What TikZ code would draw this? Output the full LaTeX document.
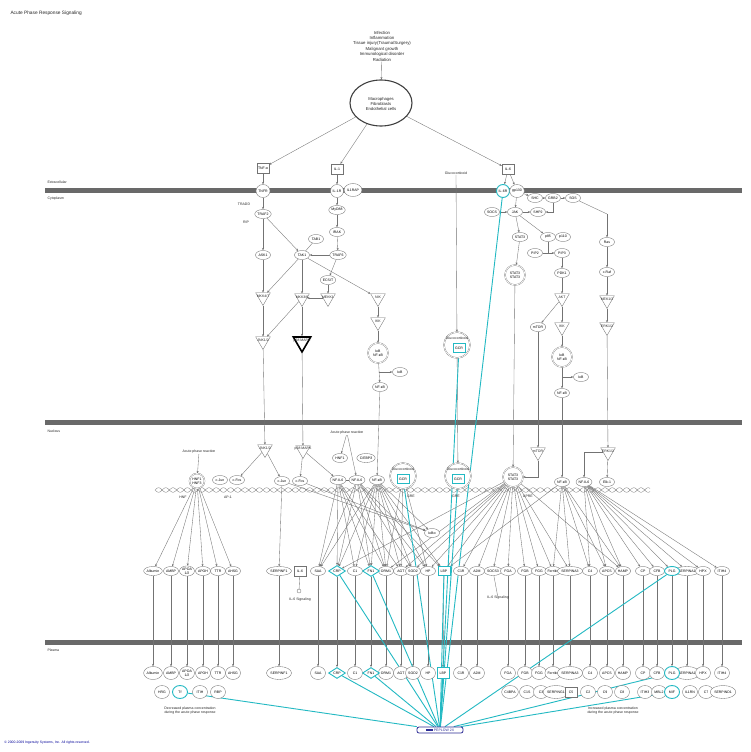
\documentclass[tikz,border=0pt]{standalone}
\usepackage{fontspec}
\setmainfont{Liberation Sans}
\usetikzlibrary{shapes.geometric,arrows.meta}
\pgfdeclarelayer{bg}
\pgfsetlayers{bg,main}
\definecolor{lc}{RGB}{115,115,115}
\definecolor{memb}{RGB}{105,105,105}
\definecolor{cy}{RGB}{35,185,195}
\definecolor{nv}{RGB}{45,45,150}
\tikzset{
 fs/.style={font=\fontsize{3.5}{4.1}\selectfont},
 lbl/.style={fs, inner sep=0.3pt, text=black!85},
 mol/.style={ellipse, draw=lc, line width=0.35pt, inner sep=0.3pt, minimum width=15pt, minimum height=9pt, fs, fill=white, align=center},
 rec/.style={mol, minimum width=10pt, minimum height=13pt},
 pmol/.style={mol, minimum width=15pt, minimum height=13pt},
 lig/.style={rectangle, draw=lc, line width=0.35pt, minimum width=12pt, minimum height=10pt, inner sep=0.8pt, fs, fill=white},
 tri/.style={regular polygon, regular polygon sides=3, shape border rotate=180, draw=lc, line width=0.35pt, minimum size=17pt, inner sep=0pt, fill=white},
 cplx/.style={circle, draw=lc, line width=0.3pt, double=white, double distance=0.7pt, fill=white, inner sep=0.4pt, minimum size=20pt, fs, align=center},
 cydia/.style={diamond, draw=cy, line width=0.9pt, fill=white, inner sep=0.2pt, minimum width=17pt, minimum height=11pt, aspect=1.6, fs},
 cybox/.style={rectangle, draw=cy, line width=0.9pt, fill=white, inner sep=0.8pt, minimum width=12pt, minimum height=9pt, fs},
 cymol/.style={mol, draw=cy, line width=0.9pt},
 arr/.style={draw=lc, line width=0.35pt, -{Stealth[length=2.4pt,width=2pt]}},
 ln/.style={draw=lc, line width=0.35pt},
 cyl/.style={draw=cy, line width=0.9pt},
}
\newcommand\kinase[4][]{\node[tri,#1] (#2) at (#3) {}; \node[lbl, yshift=1pt] (#2t) at (#3) {#4};}
\begin{document}
\begin{tikzpicture}[x=1pt,y=-1pt]
\useasboundingbox (0,0) rectangle (750,752);
\begin{pgfonlayer}{bg}
\fill[white] (0,0) rectangle (750,752);
\fill[memb] (45,187.5) rectangle (742,193);
\fill[memb] (45,419.5) rectangle (742,425);
\fill[memb] (45,639.5) rectangle (742,645);
\draw[lc, line width=0.3pt] plot[domain=0:495, samples=400, smooth] ({\x+155}, {490+2.3*sin(\x*25)});
\draw[lc, line width=0.3pt] plot[domain=0:495, samples=400, smooth] ({\x+155}, {490-2.3*sin(\x*25)});
\end{pgfonlayer}
% labels
\node[lbl, anchor=west, font=\fontsize{4.8}{5.5}\selectfont] (title) at (10,13) {Acute Phase Response Signaling};
\node[lbl, anchor=west] (lex) at (47,182) {Extracellular};
\node[lbl, anchor=west] (lcy) at (47,199) {Cytoplasm};
\node[lbl, anchor=west] (lnu) at (47,431) {Nucleus};
\node[lbl, anchor=west] (lpl) at (47,650) {Plasma};
\node[lbl, anchor=west, text=blue!60!black, font=\fontsize{3.4}{4}\selectfont] (copy) at (4,743) {© 2000-2009 Ingenuity Systems, Inc. All rights reserved.};
% top
\node[lbl, align=center, font=\fontsize{4.3}{5.4}\selectfont] (stim) at (382,46) {Infection\\Inflammation\\Tissue injury(Trauma/Surgery)\\Malignant growth\\Immunological disorder\\Radiation};
\node[ellipse, draw=black!75, line width=1.1pt, minimum width=62pt, minimum height=46pt, fill=white] (cells) at (381,103) {};
\node[lbl, align=center, font=\fontsize{4.2}{5.2}\selectfont] (cellst) at (381,104) {Macrophages\\Fibroblasts\\Endothelial cells};
\node[lig] (tnf) at (263,168) {TNF-α};
\node[lig] (il1) at (337,169) {IL-1};
\node[lig] (il6) at (508,169) {IL-6};
\node[lbl] (gluc) at (456,173) {Glucocorticoid};
% receptors
\node[rec] (tnfr) at (263,191) {TNFR};
\node[rec] (il1r) at (337,191) {IL-1R};
\node[rec] (il1rap) at (353,190) {IL1RAP};
\node[rec, draw=cy, line width=0.9pt] (il6r) at (503,191) {IL-6R};
\node[rec] (gp130) at (517,191) {gp130};
\node[mol] (shc) at (535,198) {SHC};
\node[mol] (grb2) at (553,198) {GRB2};
\node[mol] (sos) at (573,198) {SOS};
\coordinate (sosk) at (607,214);
% TNF / IL-1 branch
\node[lbl] (tradd) at (244,204) {TRADD};
\node[mol] (traf2) at (263,214) {TRAF2};
\node[lbl] (rip) at (246,222) {RIP};
\node[mol] (myd88) at (337,210) {MyD88};
\node[mol] (irak) at (337,232) {IRAK};
\node[mol] (tab1) at (316,239) {TAB1};
\node[mol] (ask1) at (263,255) {ASK1};
\node[mol] (tak1) at (302,255) {TAK1};
\node[mol] (traf6) at (338,255) {TRAF6};
\node[mol] (ecsit) at (328,280) {ECSIT};
\kinase{mkk47}{263,297}{MKK4/7}
\kinase{mkk36}{302,298}{MKK3/6}
\kinase{mekk1}{328,298}{MEKK1}
\kinase{nik}{378,298}{NIK}
\kinase{ikk1}{378,322}{IKK}
\kinase{jnk}{263,341}{JNK1/2}
\kinase[draw=black, line width=1.6pt, minimum size=20pt]{p38}{302,342}{p38 MAPK}
\node[cplx] (nfkb1c) at (378,353) {IκB\\NF-κB};
\node[mol] (ikb1) at (400,372) {IκB};
\node[mol] (nfkb1) at (380,387) {NF-κB};
\coordinate (b1) at (379,372);
% glucocorticoid cyto
\node[cplx, minimum size=26pt] (gcr1) at (457,345) {};
\node[lbl] (gcr1g) at (457,338) {Glucocorticoid};
\node[cybox] (gcr1b) at (459,348) {GCR};
% IL-6 branch
\node[mol] (socs) at (492,212) {SOCS};
\node[mol] (jak) at (515,212) {JAK};
\node[mol] (shp2) at (538,212) {SHP2};
\node[mol] (stat3) at (520,237) {STAT3};
\node[mol] (p85) at (548,237) {p85};
\node[mol] (p110) at (563,237) {p110};
\node[mol] (pip2) at (535,253) {PIP2};
\node[mol] (pip3) at (562,253) {PIP3};
\coordinate (pipm) at (548,253);
\node[cplx] (stat3d) at (515,275) {STAT3\\STAT3};
\node[mol] (pdk1) at (562,273) {PDK1};
\kinase{akt}{562,298}{AKT}
\node[mol] (mtor) at (538,327) {mTOR};
\kinase{ikk2}{562,327}{IKK}
\node[cplx] (nfkb2c) at (562,357) {IκB\\NF-κB};
\node[mol] (ikb2) at (581,377) {IκB};
\node[mol] (nfkb2) at (562,393) {NF-κB};
\coordinate (b2) at (562,377);
\node[mol] (ras) at (607,242) {Ras};
\node[mol] (craf) at (607,272) {c-Raf};
\kinase{mek}{607,300}{MEK1/2}
\kinase{erk}{607,327}{ERK1/2}
% nucleus
\node[lbl] (apr1) at (199,452) {Acute phase reaction};
\node[cplx, minimum size=15pt] (hnfc) at (197,481) {HNF1\\HNF3};
\node[mol] (cjunA) at (220,480) {c-Jun};
\node[mol] (cfosA) at (237,480) {c-Fos};
\node[lbl] (hnfl) at (183,497) {HNF};
\node[lbl] (ap1l) at (228,497) {AP-1};
\kinase{jnkN}{265,449}{JNK1/2}
\kinase{p38N}{303,450}{p38 MAPK}
\node[mol] (cjunB) at (282,481) {c-Jun};
\node[mol] (cfosB) at (300,481) {c-Fos};
\node[lbl] (apr2) at (347,433) {Acute phase reaction};
\node[mol] (hnf1) at (340,458) {HNF1};
\node[mol] (cebpd) at (366,458) {C/EBPδ};
\node[mol] (nfil6a) at (338,480) {NF-IL6};
\node[mol] (nfil6b) at (357,480) {NF-IL6};
\node[mol] (nfkbN1) at (377,480) {NF-κB};
\node[cplx, minimum size=26pt] (gcrN1) at (403,476) {};
\node[lbl] (gcrN1g) at (403,469) {Glucocorticoid};
\node[cybox] (gcrN1b) at (403,479) {GCR};
\node[lbl] (gre1) at (411,496) {GRE};
\node[cplx, minimum size=26pt] (gcrN2) at (458,476) {};
\node[lbl] (gcrN2g) at (458,469) {Glucocorticoid};
\node[cybox] (gcrN2b) at (458,479) {GCR};
\node[lbl] (gre2) at (456,496) {GRE};
\node[cplx] (stat3N) at (513,477) {STAT3\\STAT3};
\node[lbl] (apre) at (528,496) {APRE};
\kinase{mtorN}{538,452}{mTOR}
\node[mol] (nfkbN2) at (562,482) {NF-κB};
\kinase{erkN}{608,452}{ERK1/2}
\node[mol] (nfil6c) at (584,482) {NF-IL6};
\node[mol] (elk1) at (607,482) {Elk-1};
\node[mol] (ikba) at (432,533) {IκBα};
% acute phase protein genes
\foreach \n/\x/\t in {alb/153/Albumin, ambp/171/AMBP, apoa/187/{APOA\\1/2}, apoh/203/APOH, ttr/218/TTR, ahsg/233/AHSG, serf/279/SERPINF1, saa/318/SAA, c1/355/C1, orm/386/ORM1, agt/401/AGT, sod/413/SOD2, hp/428/HP, c1r/461/C1R, a2m/477/A2M, socs3/493/SOCS3, fga/508/FGA, fgb/525/FGB, fgg/539/FGG, fer/553/Ferritin, sa3/570/SERPINA3, c4/590/C4, apcs/607/APCS, hamp/623/HAMP, cp/643/CP, cfb/657/CFB, sa1/687/SERPINA1, hpx/703/HPX, itih/722/ITIH4}
  {\node[mol] (\n-n) at (\x,571) {\t};}
\node[cydia] (crp-n) at (337,571) {CRP};
\node[cydia] (fn-n) at (371,571) {FN1};
\node[cybox] (lbp-n) at (444,571) {LBP};
\node[cymol] (plg-n) at (672,571) {PLG};
\node[lig] (il6-n) at (300,571) {IL-6};
\node[circle, draw=lc, line width=0.35pt, minimum size=4pt, inner sep=0pt, fill=white] (il6sc) at (299,591) {};
\node[lbl] (il6s1) at (300,600) {IL-6 Signaling};
\node[lbl] (il6s2) at (498,598) {IL-6 Signaling};
% plasma
\foreach \n/\x/\t in {alb/153/Albumin, ambp/171/AMBP, apoa/187/{APOA\\1/2}, apoh/203/APOH, ttr/218/TTR, ahsg/233/AHSG, serf/279/SERPINF1, saa/318/SAA, c1/355/C1, orm/386/ORM1, agt/401/AGT, sod/413/SOD2, hp/428/HP, c1r/461/C1R, a2m/477/A2M, fga/508/FGA, fgb/525/FGB, fgg/539/FGG, fer/553/Ferritin, sa3/570/SERPINA3, c4/590/C4, apcs/607/APCS, hamp/623/HAMP, cp/643/CP, cfb/657/CFB, sa1/687/SERPINA1, hpx/703/HPX, itih/722/ITIH4}
  {\node[pmol] (\n-p) at (\x,673) {\t};}
\node[cydia] (crp-p) at (337,673) {CRP};
\node[cydia] (fn-p) at (371,673) {FN1};
\node[cybox, minimum height=11pt] (lbp-p) at (443,673) {LBP};
\node[cymol, minimum height=13pt] (plg-p) at (672,673) {PLG};
\foreach \n/\x/\t in {hrg/162/HRG, itih1/200/ITIH, rbp/218/RBP, c4bp/510/C4BPA, c1s/527/C1S, c3/541/C3, serg/556/SERPING1, c2/588/C2, c9/605/C9, c8/622/C8, itih3/645/ITIH3, mbl/659/MBL2, il1rn/690/IL1RN, c7/706/C7, serd/723/SERPIND1}
  {\node[pmol] (\n-p) at (\x,692) {\t};}
\node[cymol, minimum height=13pt] (tf-p) at (180,692) {Tf};
\node[lig] (c5-p) at (571,692) {C5};
\node[cymol, minimum height=13pt] (mif-p) at (672,692) {MIF};
\node[lbl, align=center] (dec) at (190,711) {Decreased plasma concentration\\during the acute phase response};
\node[lbl, align=center] (inc) at (613,711) {Increased plasma concentration\\during the acute phase response};
\node[draw=nv, line width=0.8pt, rounded corners=2pt, fill=white, inner sep=0.8pt, fs, minimum width=46pt, minimum height=6pt, text=nv] (pep) at (440,730) {\textcolor{nv}{\rule{7pt}{2.4pt}}\ PEPLOW 2X};
% edges
\begin{pgfonlayer}{bg}
\draw[arr] (stim) -- (cells);
\draw[arr] (cells) -- (tnf);
\draw[arr] (cells) -- (il1);
\draw[arr] (cells) -- (il6);
\foreach \a/\b in {tnf/tnfr, tnfr/traf2, traf2/ask1, traf2/tak1, ask1/mkk47, mkk47/jnk, tak1/mkk47, tak1/mkk36, tak1/nik, mkk36/jnk, mkk36/p38, mekk1/mkk36, ecsit/mekk1, traf6/tak1, traf6/ecsit, il1/il1r, il1r/myd88, myd88/irak, irak/traf6, nik/ikk1, ikk1/nfkb1c, nfkb1c/nfkb1, b1/ikb1, il6/il6r, il6/gp130, gp130/shc, shc/grb2, grb2/sos, sosk/ras, gp130/jak, socs/jak, jak/stat3, jak/shp2, jak/p85, pip2/pip3, pip3/pdk1, pdk1/akt, akt/mtor, akt/ikk2, ikk2/nfkb2c, nfkb2c/nfkb2, b2/ikb2, stat3/stat3d, ras/craf, craf/mek, mek/erk, gluc/gcr1}
  {\draw[arr] (\a) -- (\b);}
\draw[ln] (sos) -- (sosk);
\draw[ln] (tab1) -- (tak1);
\draw[ln] (p85) -- (pipm);
\draw[arr] (grb2) |- (shp2.east);
\foreach \a/\b in {jnk/jnkN, p38/p38N, nfkb1/nfkbN1, stat3d/stat3N, mtor/mtorN, nfkb2/nfkbN2, erk/erkN, gcr1/gcrN2, apr1/hnfc, apr2/hnf1, apr2/nfil6b, jnkN/cfosA, jnkN/cjunB, p38N/cfosB, p38N/nfil6a, erkN/elk1, cjunB/ikba, cfosB/ikba, nfkbN1/ikba}
  {\draw[arr] (\a) -- (\b);}
\draw[arr] (mtorN) |- (stat3N.east);
\draw[arr] (erkN) -| (nfil6c);
\draw[ln] (nfil6a) -- (nfil6b);
\draw[ln] (il6-n) -- (il6sc);
\draw[ln] (socs3-n) -- (il6s2);
% TF -> genes
\foreach \a/\b in {hnfc/alb, hnfc/ambp, hnfc/apoa, hnfc/apoh, hnfc/ttr, hnfc/ahsg, cjunB/serf,
  nfil6a/saa, nfil6a/crp, nfil6a/c1, nfil6a/fn, nfil6a/orm, nfil6a/agt,
  nfil6b/saa, nfil6b/crp, nfil6b/fn, nfil6b/orm, nfil6b/sod, nfil6b/hp, nfil6b/lbp,
  nfkbN1/saa, nfkbN1/crp, nfkbN1/c1, nfkbN1/fn, nfkbN1/orm, nfkbN1/agt, nfkbN1/sod, nfkbN1/hp, nfkbN1/lbp,
  gcrN1/orm, gcrN1/agt, gcrN1/hp,
  stat3N/crp, stat3N/orm, stat3N/agt, stat3N/sod, stat3N/hp, stat3N/lbp, stat3N/c1r, stat3N/a2m, stat3N/socs3, stat3N/fga, stat3N/fgb, stat3N/fgg, stat3N/fer, stat3N/sa3, stat3N/hamp,
  nfkbN2/fer, nfkbN2/sa3, nfkbN2/c4, nfkbN2/apcs, nfkbN2/hamp, nfkbN2/lbp,
  nfil6c/c4, nfil6c/apcs, nfil6c/hamp, nfil6c/cp, nfil6c/cfb, nfil6c/plg, nfil6c/sa1, nfil6c/hpx, nfil6c/itih}
  {\draw[arr] (\a) -- (\b-n);}
% genes -> plasma
\foreach \n in {alb, ambp, apoa, apoh, ttr, ahsg, serf, saa, crp, c1, fn, orm, agt, sod, hp, lbp, c1r, a2m, fga, fgb, fgg, fer, sa3, c4, apcs, hamp, cp, cfb, plg, sa1, hpx, itih}
  {\draw[arr] (\n-n) -- (\n-p);}
% overlay connectors
\foreach \t in {tf-p, crp-p, fn-p, lbp-p, crp-n, fn-n, lbp-n, gcr1b, gcrN1b, gcrN2b, il6r, plg-n, plg-p, mif-p}
  {\draw[cyl] (\t) -- (pep);}
\end{pgfonlayer}
\end{tikzpicture}
\end{document}
